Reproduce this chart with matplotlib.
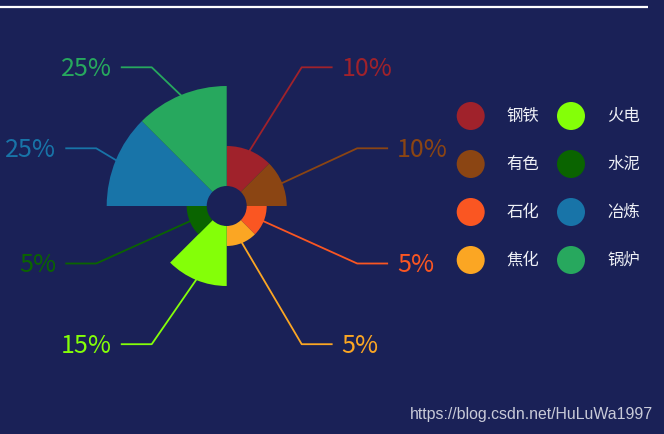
import matplotlib
matplotlib.use('Agg')
import matplotlib.pyplot as plt
import numpy as np
from matplotlib.patches import Wedge, Circle

# data
categories = ['钢铁', '有色', '石化', '焦化', '火电', '水泥', '冶炼', '锅炉']
values     = [10, 10, 5, 5, 15, 5, 25, 25]
colors     = ['#a0222b', '#8b4513', '#fa5622', '#fba623',
              '#84ff08', '#0a6400', '#1874a8', '#27a85e']
watermark  = 'https://blog.csdn.net/HuLuWa1997'

# layout (pixel units, y up)
W, H      = 664, 434
BG        = '#1a2157'
CX, CY    = 226.7, 228.0
R0, R1    = 20, 120
elbow_dx  = [75, 130.5, 130.5, 75, -75, -130.5, -130.5, -75]
elbow_dy  = [138.7, 57.7, -57.5, -138.2, -138.2, -57.5, 57.7, 138.7]

plt.rcParams['font.family'] = ['Noto Sans CJK SC', 'DejaVu Sans']

fig = plt.figure(figsize = (W / 100, H / 100), dpi = 100, facecolor = BG)
ax  = fig.add_axes([0, 0, 1, 1])
ax.set_facecolor(BG)
ax.set_xlim(0, W)
ax.set_ylim(0, H)
ax.set_aspect('equal')
ax.axis('off')

# top rule
ax.plot([0, 648], [H - 6.5, H - 6.5], color = 'white', lw = 1.6, solid_capstyle = 'butt')

vmax  = max(values)
total = sum(values)
for i, (v, c) in enumerate(zip(values, colors)):
    r  = R0 + (R1 - R0) * v / vmax
    t2 = 90 - 45 * i
    t1 = t2 - 45
    ax.add_patch(Wedge((CX, CY), r, t1, t2, width = r - R0, facecolor = c, edgecolor = 'none'))

    # leader line from the outer edge midpoint
    mid = np.deg2rad((t1 + t2) / 2)
    x0, y0 = CX + r * np.cos(mid), CY + r * np.sin(mid)
    ex, ey = CX + elbow_dx[i], CY + elbow_dy[i]
    side = 1 if elbow_dx[i] > 0 else -1
    x2 = ex + side * 30
    ax.plot([x0, ex, x2], [y0, ey, ey], color = c, lw = 1.3)
    ax.text(x2 + side * 10, ey - 1.5, f'{v / total * 100:.0f}%', color = c, fontsize = 18,
            fontweight = 'light', ha = 'left' if side > 0 else 'right', va = 'center')

# legend, two columns of four
for i, (name, c) in enumerate(zip(categories, colors)):
    col, row = divmod(i, 4)
    lx = 470.7 + col * 100.3
    ly = H - (116 + row * 48)
    ax.add_patch(Circle((lx, ly), 14, facecolor = c, edgecolor = 'none'))
    ax.text(lx + 36, ly, name, color = '#eef0f6', fontsize = 11.8, ha = 'left', va = 'center')

ax.text(653, H - 414, watermark, color = '#c8cad8', fontsize = 11.4,
        family = ['Liberation Sans', 'DejaVu Sans'], ha = 'right', va = 'center')

fig.savefig('out.png', dpi = 100, facecolor = BG)
